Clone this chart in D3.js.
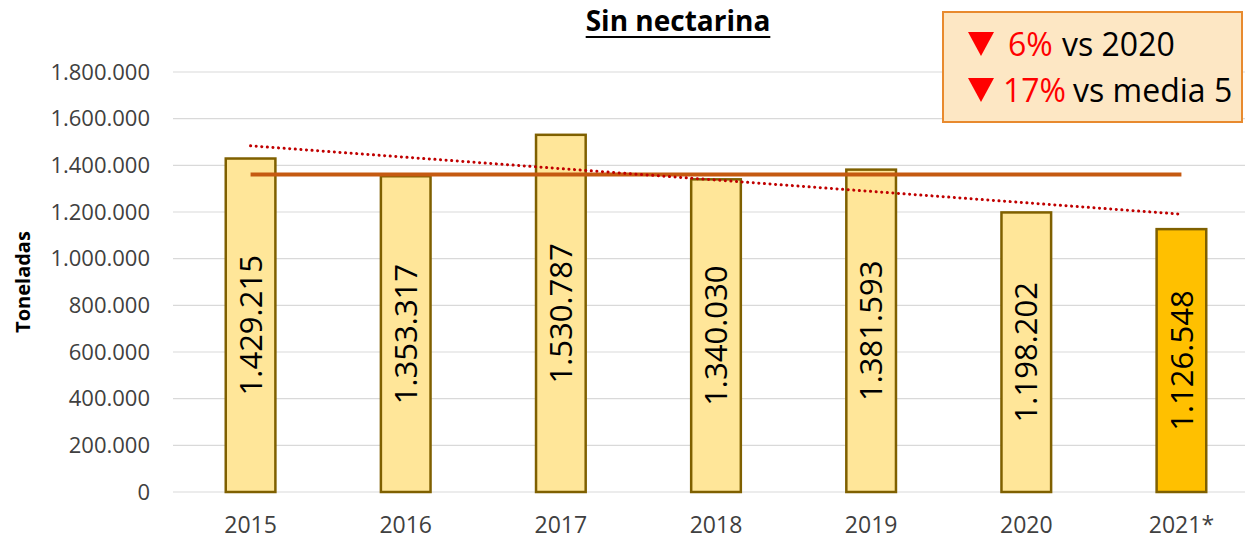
<!DOCTYPE html>
<html><head><meta charset="utf-8">
<script src="https://cdn.jsdelivr.net/npm/d3@7"></script>
<style>body{margin:0;background:#fff}svg{display:block}</style>
</head><body><svg id="c" width="1245" height="539"></svg>
<script>
const categories = ["2015","2016","2017","2018","2019","2020","2021*"];
const values = [1429215,1353317,1530787,1340030,1381593,1198202,1126548];
const yTicks = [0,200000,400000,600000,800000,1000000,1200000,1400000,1600000,1800000];
const title = "Sin nectarina";
const yTitle = "Toneladas";
const boxPct = ["6%","17%"];
const boxText = ["vs 2020","vs media 5"];

const svg = d3.select("#c");
const font = "'Open Sans','DejaVu Sans',sans-serif";
const loc = d3.formatLocale({decimal:",",thousands:".",grouping:[3],currency:["","€"]});
const fmt = loc.format(",d");

const x = d3.scaleBand().domain(categories).range([173,1259]).paddingInner(0.68).paddingOuter(0.34);
const y = d3.scaleLinear().domain([0,1800000]).range([492,72]);

// gridlines
svg.append("g").selectAll("line").data(yTicks).join("line")
  .attr("x1",173).attr("x2",1259).attr("y1",d=>y(d)).attr("y2",d=>y(d))
  .attr("stroke","#d9d9d9").attr("stroke-width",1.2);

// y axis labels
const yAxis = svg.append("g").attr("transform","translate(150,0)")
  .call(d3.axisLeft(y).tickValues(yTicks).tickFormat(fmt).tickSize(0).tickPadding(0));
yAxis.select(".domain").remove();
yAxis.selectAll("text").attr("font-family",font).attr("font-size",22).attr("fill","#404040");

// x axis labels
const xAxis = svg.append("g").attr("transform","translate(0,517)")
  .call(d3.axisBottom(x).tickSize(0).tickPadding(0));
xAxis.select(".domain").remove();
xAxis.selectAll("text").attr("font-family",font).attr("font-size",23).attr("fill","#404040").attr("dy","0.71em");

// bars
svg.append("g").selectAll("rect").data(values).join("rect")
  .attr("x",(d,i)=>x(categories[i])).attr("width",x.bandwidth())
  .attr("y",d=>y(d)).attr("height",d=>y(0)-y(d))
  .attr("fill",(d,i)=>i===values.length-1?"#FFC000":"#FFE699")
  .attr("stroke","#7F6000").attr("stroke-width",2.5);

// average line (media 5: 2016-2020)
const avg = d3.mean(values.slice(1,6));
svg.append("line")
  .attr("x1",x(categories[0])+x.bandwidth()/2).attr("x2",x(categories[6])+x.bandwidth()/2)
  .attr("y1",y(avg)).attr("y2",y(avg))
  .attr("stroke","#C55A11").attr("stroke-width",4);

// linear trend
const idx = values.map((d,i)=>i);
const mx = d3.mean(idx), my = d3.mean(values);
const slope = d3.sum(idx,i=>(i-mx)*(values[i]-my))/d3.sum(idx,i=>(i-mx)*(i-mx));
const icpt = my - slope*mx;
const trend = idx.map(i=>[x(categories[i])+x.bandwidth()/2, y(icpt+slope*i)]);
svg.append("line")
  .attr("x1",trend[0][0]).attr("y1",trend[0][1]).attr("x2",trend[6][0]).attr("y2",trend[6][1])
  .attr("stroke","#C00000").attr("stroke-width",3).attr("stroke-linecap","round")
  .attr("stroke-dasharray","0.1,5.5");

// value labels
svg.append("g").selectAll("text").data(values).join("text")
  .attr("transform",(d,i)=>`translate(${x(categories[i])+x.bandwidth()/2},${(y(d)+y(0))/2}) rotate(-90)`)
  .attr("text-anchor","middle").attr("dy","0.36em")
  .attr("font-family",font).attr("font-size",31).attr("fill","#000")
  .text(d=>fmt(d));

// y title
svg.append("text").attr("transform","translate(30,282) rotate(-90)")
  .attr("text-anchor","middle").attr("font-family",font).attr("font-weight","bold")
  .attr("font-size",20).attr("fill","#000").text(yTitle);

// title
const t = svg.append("text").attr("x",678).attr("y",31).attr("text-anchor","middle")
  .attr("font-family",font).attr("font-weight","bold").attr("font-size",28).attr("fill","#000").text(title);
const bb = t.node().getBBox();
svg.append("line").attr("x1",bb.x).attr("x2",bb.x+bb.width).attr("y1",37).attr("y2",37)
  .attr("stroke","#000").attr("stroke-width",2);

// box
svg.append("rect").attr("x",943).attr("y",12).attr("width",299).attr("height",110)
  .attr("fill","#FDE7C4").attr("stroke","#E88A2E").attr("stroke-width",2);
const rowY = [56,102];
const pctX = [1008,1003];
const txtX = [1062,1073];
boxPct.forEach((p,i)=>{
  const b = rowY[i];
  svg.append("path")
    .attr("d",`M968,${b-24}L994,${b-24}L981,${b}Z`)
    .attr("fill","#FF0000");
  svg.append("text").attr("x",pctX[i]).attr("y",b).attr("font-family",font)
    .attr("font-size",32).attr("fill","#FF0000").text(p);
  svg.append("text").attr("x",txtX[i]).attr("y",b).attr("font-family",font)
    .attr("font-size",32).attr("fill","#000").text(boxText[i]);
});
</script></body></html>
